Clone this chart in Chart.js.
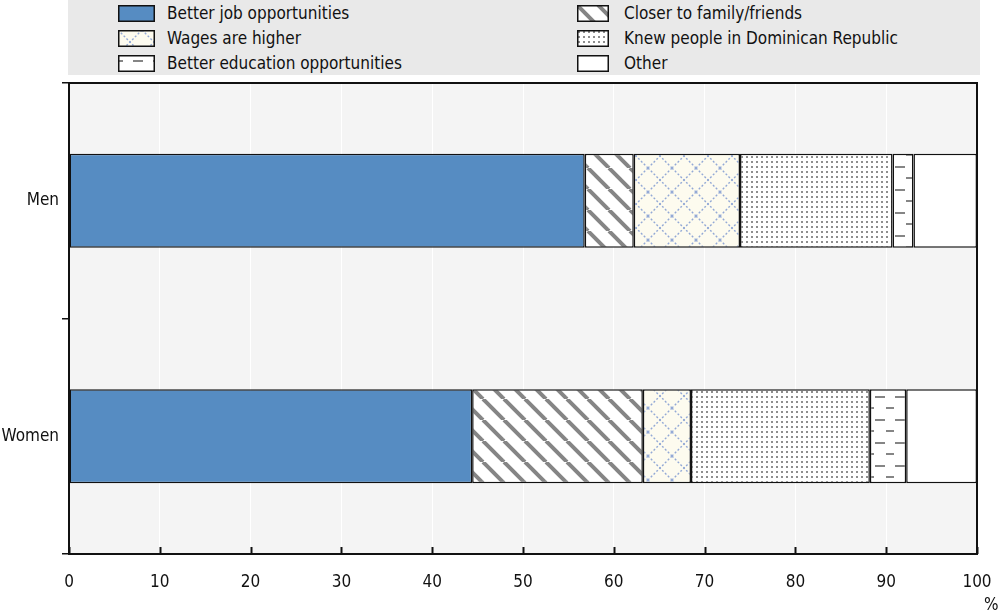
<!DOCTYPE html>
<html>
<head>
<meta charset="utf-8">
<script src="https://cdn.jsdelivr.net/npm/chart.js@4"></script>
<style>
    body { margin: 0; background: #fff; font-family: 'Liberation Sans Narrow', 'DejaVu Sans Condensed', sans-serif; }
    #wrap { position: relative; width: 1000px; height: 616px; }
    #legend { position: absolute; left: 68px; top: 0; width: 912px; height: 75px; background: #e9e9e9; }
    .item { position: absolute; height: 20px; font-size: 17px; color: #111; line-height: 20px; white-space: nowrap; }
    .item canvas { position: absolute; left: 0; top: 2px; }
    .item span { position: absolute; top: 0; }
    #pct { position: absolute; left: 984px; top: 594px; font-size: 17px; color: #111; }
</style>
</head>
<body>
<div id="wrap">
    <canvas id="chart" width="1000" height="616"></canvas>
    <div id="legend"></div>
    <div id="pct">%</div>
</div>
<script>
// Daten
var categories = ['Men', 'Women'];
var seriesNames = ['Better job opportunities', 'Closer to family/friends', 'Wages are higher',
    'Knew people in Dominican Republic', 'Better education opportunities', 'Other'];
var betterJob = [56.8, 44.4];
var closerFamily = [5.4, 18.8];
var wagesHigher = [11.7, 5.3];
var knewPeople = [16.8, 19.7];
var betterEducation = [2.3, 4.0];
var other = [7.0, 7.8];
var xTicks = [0, 10, 20, 30, 40, 50, 60, 70, 80, 90, 100];

var FONT = "'Liberation Sans Narrow', 'DejaVu Sans Condensed', sans-serif";

// Muster-Kacheln
function tile(w, h, draw) {
    var c = document.createElement('canvas');
    c.width = w; c.height = h;
    var ctx = c.getContext('2d');
    draw(ctx, w, h);
    return c;
}
function stripes(ctx) {
    return ctx.createPattern(tile(21, 21, function (t, s) {
        t.fillStyle = '#fff'; t.fillRect(0, 0, s, s);
        t.strokeStyle = '#858585'; t.lineWidth = 4;
        [-s, 0, s].forEach(function (o) {
            t.beginPath(); t.moveTo(o, 0); t.lineTo(o + s, s); t.stroke();
        });
    }), 'repeat');
}
function crosshatch(ctx) {
    return ctx.createPattern(tile(24, 24, function (t, s) {
        t.fillStyle = '#fdfbef'; t.fillRect(0, 0, s, s);
        t.strokeStyle = '#93a9d6'; t.lineWidth = 1.4; t.setLineDash([2, 2]);
        t.beginPath(); t.moveTo(0, 0); t.lineTo(s, s); t.stroke();
        t.beginPath(); t.moveTo(s, 0); t.lineTo(0, s); t.stroke();
    }), 'repeat');
}
function dots(ctx) {
    return ctx.createPattern(tile(5, 5, function (t, s) {
        t.fillStyle = '#fff'; t.fillRect(0, 0, s, s);
        t.fillStyle = '#8e8e8e'; t.fillRect(1, 1, 2, 2);
    }), 'repeat');
}
function dashes(ctx) {
    return ctx.createPattern(tile(20, 23, function (t, w, h) {
        t.fillStyle = '#fff'; t.fillRect(0, 0, w, h);
        t.fillStyle = '#858585';
        t.fillRect(0, 5, 5, 2); t.fillRect(15, 5, 5, 2);
        t.fillRect(6, 16, 8, 2);
    }), 'repeat');
}
function fills(ctx) {
    return ['#568cc2', stripes(ctx), crosshatch(ctx), dots(ctx), dashes(ctx), '#ffffff'];
}

// Legende (HTML)
var legendPos = [[118, 3], [577, 3], [118, 28], [577, 28], [118, 53], [577, 53]];
var legend = document.getElementById('legend');
seriesNames.forEach(function (name, i) {
    var div = document.createElement('div');
    div.className = 'item';
    div.style.left = (legendPos[i][0] - 68) + 'px';
    div.style.top = legendPos[i][1] + 'px';
    var w = i % 2 === 0 ? 37 : 32;
    var sw = document.createElement('canvas');
    sw.width = w; sw.height = 17;
    var sctx = sw.getContext('2d');
    sctx.fillStyle = fills(sctx)[i];
    sctx.fillRect(0, 0, w, 17);
    sctx.strokeStyle = '#111'; sctx.lineWidth = 1.5;
    sctx.strokeRect(0.75, 0.75, w - 1.5, 15.5);
    var sp = document.createElement('span');
    sp.style.left = (i % 2 === 0 ? 49 : 47) + 'px';
    sp.textContent = name;
    div.appendChild(sw);
    div.appendChild(sp);
    legend.appendChild(div);
});

// Hintergrund, Rahmen, Ticks
var framePlugin = {
    id: 'frame',
    beforeDraw: function (chart) {
        var a = chart.chartArea, ctx = chart.ctx;
        ctx.save();
        ctx.fillStyle = '#f4f4f4';
        ctx.fillRect(a.left, a.top, a.right - a.left, a.bottom - a.top);
        ctx.restore();
    },
    afterDraw: function (chart) {
        var a = chart.chartArea, ctx = chart.ctx, x = chart.scales.x;
        ctx.save();
        ctx.strokeStyle = '#111'; ctx.lineWidth = 2;
        xTicks.forEach(function (v) {
            var px = Math.round(x.getPixelForValue(v)) + 0.5;
            ctx.beginPath(); ctx.moveTo(px, a.bottom); ctx.lineTo(px, a.bottom - 7); ctx.stroke();
        });
        ctx.strokeRect(a.left, a.top, a.right - a.left, a.bottom - a.top);
        ctx.restore();
    }
};

var mainCtx = document.getElementById('chart').getContext('2d');
var f = fills(mainCtx);
var values = [betterJob, closerFamily, wagesHigher, knewPeople, betterEducation, other];

new Chart(mainCtx, {
    type: 'bar',
    data: {
        labels: categories,
        datasets: seriesNames.map(function (name, i) {
            return {
                label: name,
                data: values[i],
                backgroundColor: f[i],
                borderColor: '#111',
                borderWidth: 1.5,
                borderSkipped: false,
                categoryPercentage: 1,
                barPercentage: 0.4
            };
        })
    },
    options: {
        indexAxis: 'y',
        responsive: false,
        animation: false,
        layout: { padding: { top: 83, right: 23, left: 0, bottom: 0 } },
        plugins: { legend: { display: false }, tooltip: { enabled: false } },
        scales: {
            x: {
                stacked: true,
                min: 0,
                max: 100,
                afterBuildTicks: function (s) { s.ticks = xTicks.map(function (v) { return { value: v }; }); },
                afterFit: function (s) { s.height = 62; s.paddingLeft = 0; s.paddingRight = 0; },
                grid: { color: '#ffffff', lineWidth: 1, drawTicks: false },
                border: { display: false },
                ticks: { padding: 18, color: '#111', font: { family: FONT, size: 17 } }
            },
            y: {
                stacked: true,
                afterFit: function (s) { s.width = 69; s.paddingTop = 0; s.paddingBottom = 0; },
                grid: { offset: true, drawOnChartArea: false, drawTicks: true, tickLength: 7, color: '#111', lineWidth: 1.5 },
                border: { display: false },
                ticks: { padding: 3, color: '#111', font: { family: FONT, size: 17 } }
            }
        }
    },
    plugins: [framePlugin]
});
</script>
</body>
</html>
